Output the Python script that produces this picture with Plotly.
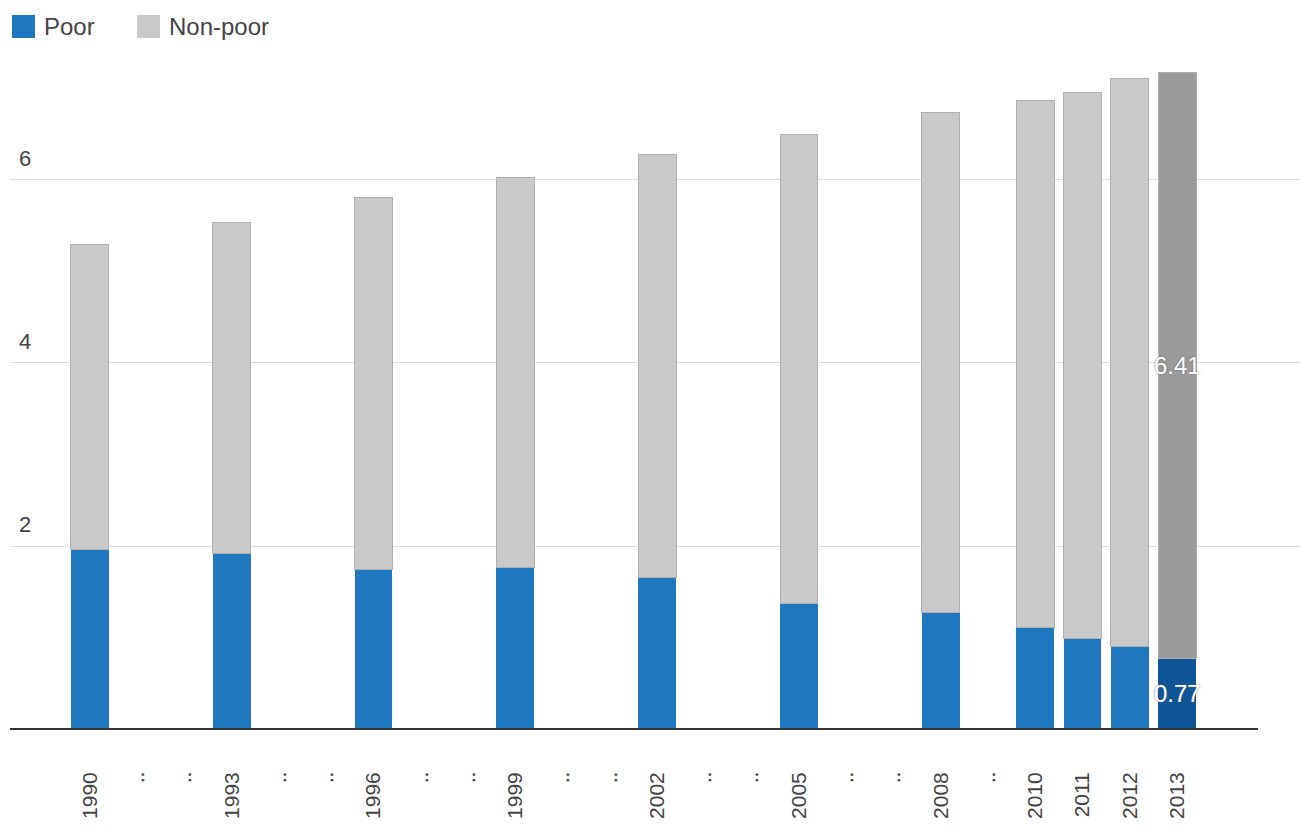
import plotly.graph_objects as go

years = [1990, 1993, 1996, 1999, 2002, 2005, 2008, 2010, 2011, 2012, 2013]
poor = [1.96, 1.92, 1.74, 1.76, 1.66, 1.37, 1.27, 1.11, 0.99, 0.90, 0.77]
non_poor = [3.33, 3.62, 4.07, 4.27, 4.62, 5.13, 5.47, 5.76, 5.97, 6.21, 6.41]
all_years = list(range(1990, 2014))
tick_text = [str(y) if y in years else "‥" for y in all_years]
y_ticks = [2, 4, 6]

POOR_C = "#1f77bf"
NONPOOR_C = "#c9c9c9"
poor_colors = [POOR_C] * (len(years) - 1) + ["#0d5596"]
nonpoor_colors = [NONPOOR_C] * (len(years) - 1) + ["#9b9b9b"]

FONT = "Liberation Sans, Arial"

fig = go.Figure()
fig.add_trace(go.Bar(
    x=years, y=poor, name="Poor", width=0.8, showlegend=False,
    marker=dict(color=poor_colors, line=dict(width=0)),
))
fig.add_trace(go.Bar(
    x=years, y=non_poor, name="Non-poor", width=0.8, showlegend=False,
    marker=dict(color=nonpoor_colors, line=dict(width=1, color="#b0b0b0")),
))

# value labels for the highlighted (last) year, centred in each segment
hx = years[-1]
label_font = dict(size=24, color="white", family=FONT, shadow="0px 0px 2px #666")
fig.add_annotation(x=hx, y=poor[-1] / 2, text=f"{poor[-1]:.2f}", showarrow=False,
                   font=label_font)
fig.add_annotation(x=hx, y=poor[-1] + non_poor[-1] / 2, text=f"{non_poor[-1]:.2f}",
                   showarrow=False, font=label_font)

# legend drawn as squares + labels (paper coordinates)
W, H, L, T = 1290.0, 674.0, 10.0, 729.0
def px_x(px):
    return (px - L) / W
def px_y(py):
    return (T - py) / H

legend_items = [("Poor", POOR_C, 12), ("Non-poor", NONPOOR_C, 137)]
for label, color, x0 in legend_items:
    fig.add_shape(type="rect", xref="paper", yref="paper",
                  x0=px_x(x0), x1=px_x(x0 + 23), y0=px_y(38), y1=px_y(15),
                  fillcolor=color, line=dict(width=0))
    fig.add_annotation(xref="paper", yref="paper", x=px_x(x0 + 30), y=px_y(27),
                       text=label, showarrow=False, xanchor="left", yanchor="middle",
                       font=dict(size=24, color="#444", family=FONT))

# baseline
fig.add_shape(type="line", xref="paper", yref="paper", x0=0, x1=px_x(1258), y0=0, y1=0,
              line=dict(color="#333", width=2), layer="above")

fig.update_layout(
    barmode="stack",
    width=1300, height=831,
    margin=dict(l=10, r=0, t=55, b=102),
    paper_bgcolor="white", plot_bgcolor="white",
    font=dict(family=FONT, color="#444", size=18),
    showlegend=False,
)
fig.update_xaxes(
    range=[1988.31, 2015.6], tickmode="array", tickvals=all_years, ticktext=tick_text,
    tickangle=-90, tickfont=dict(size=21, color="#444"), showgrid=False,
    showline=False, ticks="", ticklabelstandoff=38,
)
fig.update_yaxes(
    range=[0, 7.366], tickmode="array", tickvals=y_ticks, ticklabelposition="inside top",
    tickfont=dict(size=22, color="#444"), showgrid=True, gridcolor="#dcdcdc", gridwidth=1,
    zeroline=False, showline=False, ticklabelstandoff=6, ticklabelshift=-6,
)

fig.write_html("out.html")
